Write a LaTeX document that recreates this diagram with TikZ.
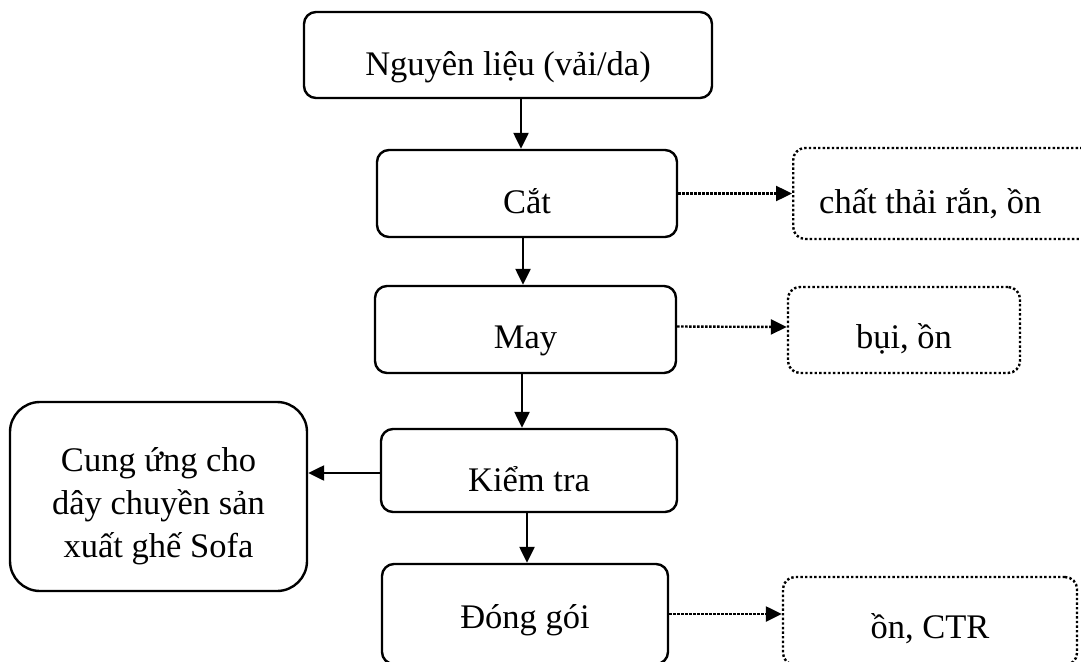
\documentclass[tikz,border=0pt]{standalone}
\usepackage{fontspec}
\setmainfont{Liberation Serif}
\usetikzlibrary{arrows.meta, positioning}
\tikzset{
  every picture/.style={line width=2.4pt},
  box/.style={draw, rounded corners=#1, align=center, inner sep=0pt,
    font=\fontsize{34.5}{43}\selectfont, text height=49pt, text depth=8.6pt},
  box/.default=12pt,
  wastebox/.style={box, dash pattern=on 2.4pt off 2.2pt},
  arrow/.style={-{Triangle[length=16pt, width=15pt]}, line width=2.4pt},
  dotarrow/.style={arrow, dash pattern=on 2.4pt off 1.6pt},
}

\begin{document}
\begin{tikzpicture}[x=1pt, y=-1pt]
  \useasboundingbox (0,0) rectangle (1081,661);
  % main line
  \node[box, minimum width=408, minimum height=86] (src) at (508,55) {Nguyên liệu (vải/da)};
  \node[box, minimum width=300, minimum height=87] (cat) at (527,193.5) {Cắt};
  \node[box, minimum width=301, minimum height=87, text height=46pt] (may) at (525.5,329.5) {May};
  \node[box, minimum width=296, minimum height=83, text height=51pt] (kt) at (529,470.5) {Kiểm tra};
  \node[box, minimum width=286, minimum height=100, text height=36.6pt] (dg) at (525,614) {Đóng gói};
  % side boxes
  \node[box=30pt, minimum width=297, minimum height=189, text height=131pt, text depth=10pt]
    (cung) at (158.5,496.5) {Cung ứng cho\\dây chuyền sản\\xuất ghế Sofa};
  \node[wastebox, anchor=west, text width=300, align=flush left, inner xsep=26,
    minimum height=91] (ct1) at (792,193.5) {chất thải rắn, ồn};
  \node[wastebox, minimum width=232, minimum height=86, text height=44.6pt] (ct2) at (904,330) {bụi, ồn};
  \node[wastebox, minimum width=294, minimum height=88, text height=42.6pt] (ct3) at (930,621) {ồn, CTR};
  % arrows
  \draw[arrow] ([xshift=-6pt]cat.north |- src.south) -- ([xshift=-6pt]cat.north);
  \draw[arrow] ([xshift=-2.5pt]may.north |- cat.south) -- ([xshift=-2.5pt]may.north);
  \draw[arrow] ([xshift=-7pt]kt.north |- may.south) -- ([xshift=-7pt]kt.north);
  \draw[arrow] ([xshift=2pt]dg.north |- kt.south) -- ([xshift=2pt]dg.north);
  \draw[arrow] ([yshift=-2.5pt]kt.west) -- ([yshift=-2.5pt]cung.east |- kt.west);
  \draw[dotarrow] (cat.east) -- (ct1.west);
  \draw[dotarrow] ([yshift=3pt]may.east) -- ([yshift=3pt]ct2.west);
  \draw[dotarrow] (dg.east) -- (ct3.west |- dg.east);
\end{tikzpicture}
\end{document}
